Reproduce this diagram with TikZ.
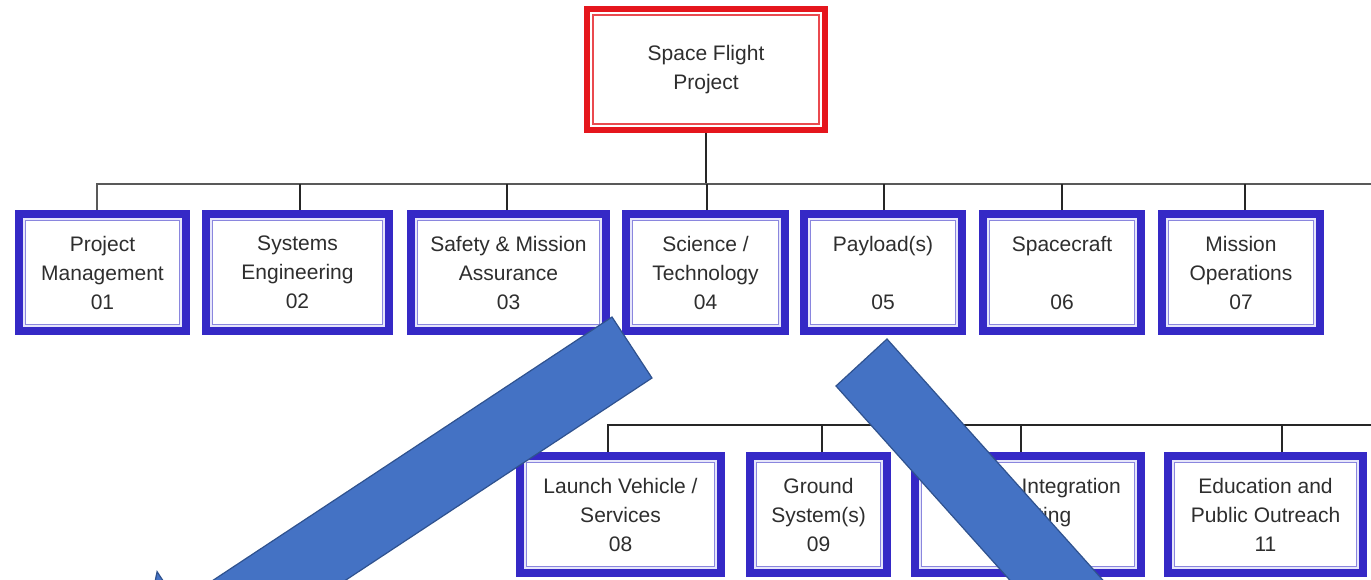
\documentclass[tikz,border=0pt]{standalone}
\usepackage{fontspec}
\setmainfont{Liberation Sans}
\definecolor{boxblue}{HTML}{3529C6}
\definecolor{gapblue}{HTML}{E6E6FA}
\definecolor{innerblue}{HTML}{8A86DE}
\definecolor{boxred}{HTML}{E5161D}
\definecolor{innerred}{HTML}{EA4A4F}
\definecolor{txtgray}{HTML}{2E2E2E}
\definecolor{arrowblue}{HTML}{4472C4}
\definecolor{arrowedge}{HTML}{2F528F}
\newcommand{\lblfont}{\fontsize{21}{29}\selectfont}
\tikzset{
  wbsbox/.style={draw=boxblue, line width=8pt, fill=gapblue, inner sep=0pt,
    minimum height=117pt, text=txtgray, font=\lblfont, align=center,
    path picture={\draw[draw=innerblue, line width=1.6pt, fill=white]
      ([shift={(6.5pt,6.5pt)}]path picture bounding box.south west) rectangle
      ([shift={(-6.5pt,-6.5pt)}]path picture bounding box.north east);}},
  topbox/.style={draw=boxred, line width=6pt, fill=white, inner sep=0pt,
    minimum width=238pt, minimum height=121pt, text=txtgray, font=\lblfont, align=center,
    path picture={\draw[draw=innerred, line width=1.6pt]
      ([shift={(6pt,6pt)}]path picture bounding box.south west) rectangle
      ([shift={(-6pt,-6pt)}]path picture bounding box.north east);}},
  conn/.style={draw=black!85, line width=1.3pt},
  busline/.style={draw=black!65, line width=2pt},
  blockarrow/.style={fill=arrowblue, draw=arrowedge, line width=1.2pt, line join=miter},
}
\begin{document}
\begin{tikzpicture}[x=1pt,y=-1pt]
\useasboundingbox[fill=white] (0,0) rectangle (1371,579);
\clip (0,0) rectangle (1371,579);

% top node
\node[topbox] (top) at (706,69.5) {Space Flight\\Project};

% level 1
\node[wbsbox, minimum width=167pt] (b1) at (102.5,272.5) {Project\\Management\\01};
\node[wbsbox, minimum width=183pt] (b2) at (297.5,272.5) {Systems\\Engineering\\02};
\node[wbsbox, minimum width=195pt] (b3) at (508.5,272.5) {Safety \& Mission\\Assurance\\03};
\node[wbsbox, minimum width=159pt] (b4) at (705.5,272.5) {Science /\\Technology\\04};
\node[wbsbox, minimum width=158pt] (b5) at (883,272.5) {Payload(s)\\[29pt]05};
\node[wbsbox, minimum width=158pt] (b6) at (1062,272.5) {\raisebox{-4pt}{Spacecraft}\\[29pt]\raisebox{-4pt}{06}};
\node[wbsbox, minimum width=158pt] (b7) at (1241,272.5) {Mission\\Operations\\07};

% level 2
\node[wbsbox, minimum width=201pt] (b8) at (620.5,514.5) {Launch Vehicle /\\Services\\08};
\node[wbsbox, minimum width=137pt] (b9) at (818.5,514.5) {Ground\\System(s)\\09};
\node[wbsbox, minimum width=226pt] (b10) at (1028,514.5) {Systems Integration\\\& Testing\\10};
\node[wbsbox, minimum width=195pt] (b11) at (1265.5,514.5) {Education and\\Public Outreach\\11};

% buses
\coordinate (bus1R) at (1371,184);
\coordinate (bus2R) at (1371,425);

\draw[conn] (top.south) -- (top.south |- bus1R);
\draw[busline] ([xshift=-5.5pt]b1.north) |- (bus1R);
\draw[conn] ([xshift=2.5pt]b2.north) -- ([xshift=2.5pt]b2.north |- bus1R);
\draw[conn] ([xshift=-1.5pt]b3.north) -- ([xshift=-1.5pt]b3.north |- bus1R);
\draw[conn] ([xshift=1.5pt]b4.north) -- ([xshift=1.5pt]b4.north |- bus1R);
\draw[conn] ([xshift=1pt]b5.north) -- ([xshift=1pt]b5.north |- bus1R);
\draw[conn] (b6.north) -- (b6.north |- bus1R);
\draw[conn] ([xshift=4pt]b7.north) -- ([xshift=4pt]b7.north |- bus1R);

\draw[conn, line width=1.8pt] ([xshift=-12.5pt]b8.north) |- (bus2R);
\draw[conn] ([xshift=3.5pt]b9.north) -- ([xshift=3.5pt]b9.north |- bus2R);
\draw[conn] ([xshift=-7pt]b10.north) -- ([xshift=-7pt]b10.north |- bus2R);
\draw[conn] ([xshift=16.5pt]b11.north) -- ([xshift=16.5pt]b11.north |- bus2R);

% block arrows
\draw[blockarrow] (612,317) -- (178.0,603.4) -- (157.1,571.7) -- (135.4,675.2)
  -- (238.9,696.1) -- (218.0,664.4) -- (652,378) -- cycle;
\draw[blockarrow] (887,339) -- (1153.8,637) -- (1180,613.7) -- (1180,720)
  -- (1070,720) -- (1102.8,684) -- (836,386) -- cycle;
\end{tikzpicture}
\end{document}
